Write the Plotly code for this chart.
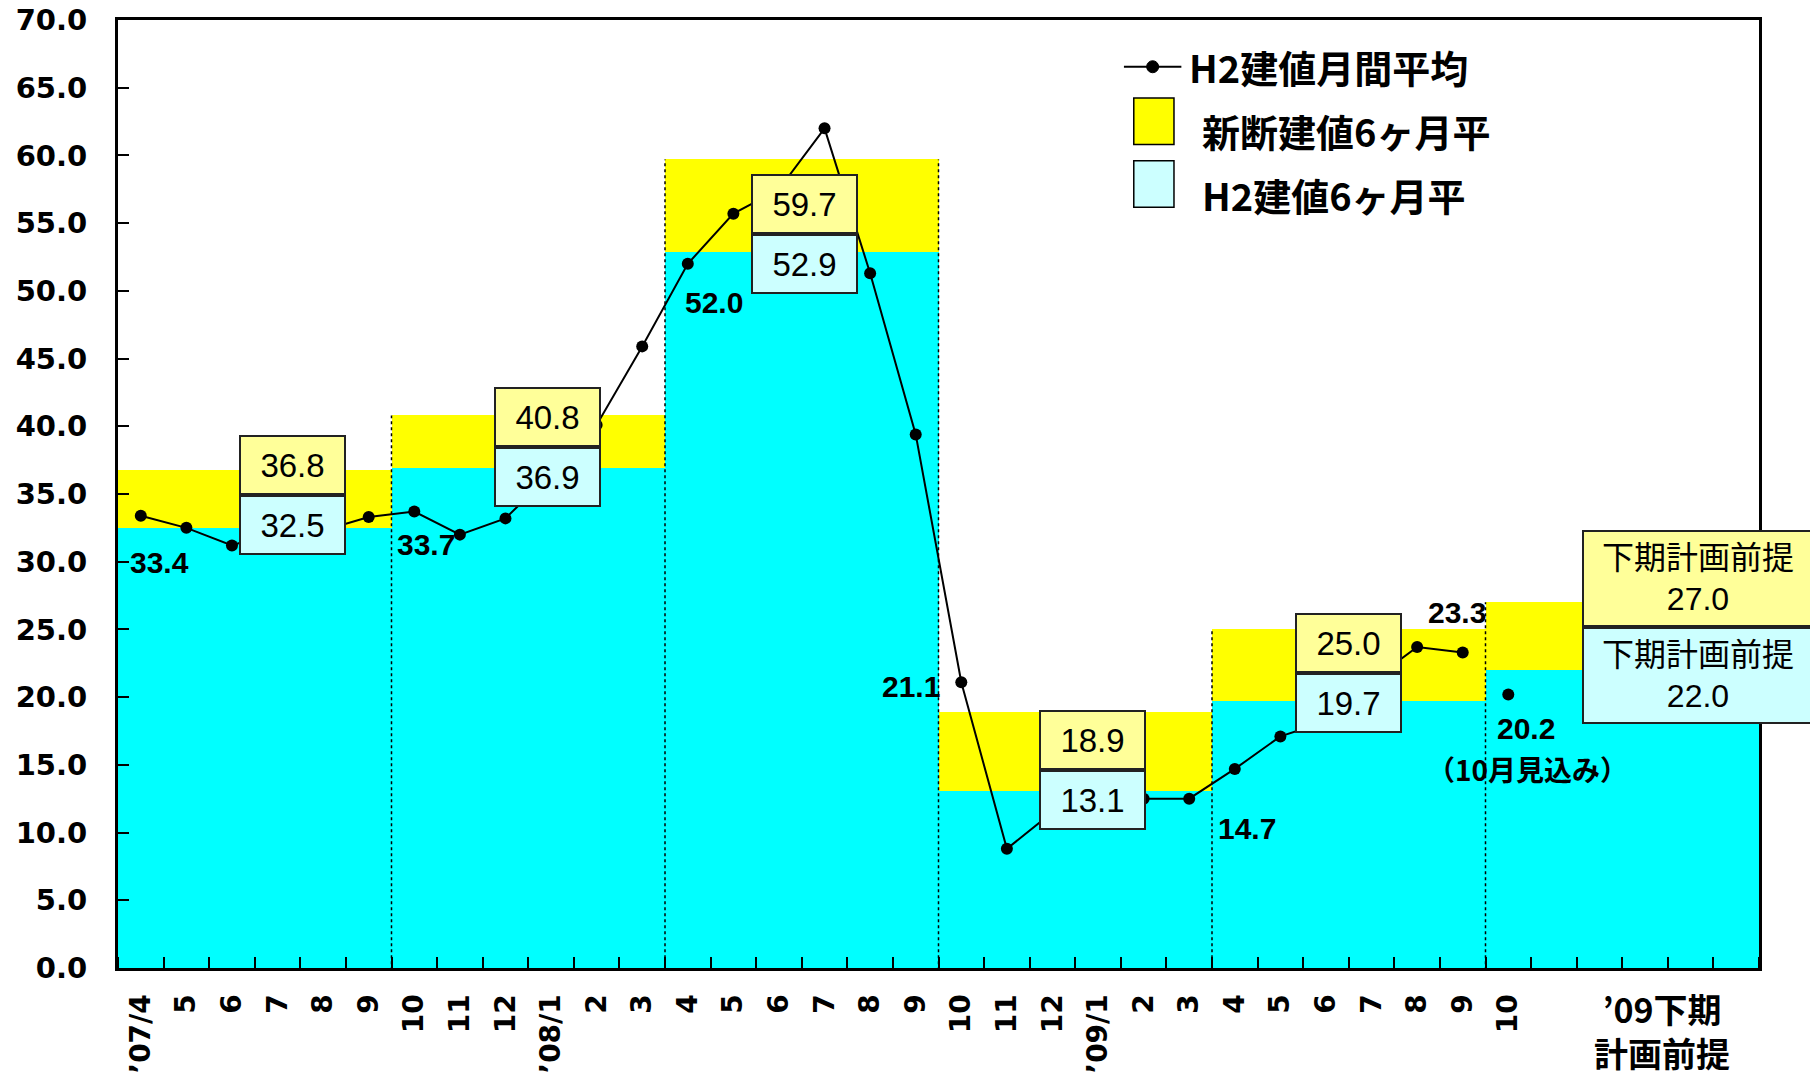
import plotly.graph_objects as go

# ---------------- data ----------------
month_labels = ["’07/4", "5", "6", "7", "8", "9", "10", "11", "12",
                "’08/1", "2", "3", "4", "5", "6", "7", "8", "9", "10", "11", "12",
                "’09/1", "2", "3", "4", "5", "6", "7", "8", "9", "10"]
h2_monthly = [33.4, 32.5, 31.2, 32.3, 32.3, 33.3,
              33.7, 32.0, 33.2, 36.5, 40.1, 45.9,
              52.0, 55.7, 57.5, 62.0, 51.3, 39.4,
              21.1, 8.8, 11.5, 12.3, 12.5, 12.5,
              14.7, 17.1, 18.2, 21.2, 23.7, 23.3]
oct_forecast = 20.2
seg_shindan_6m = [36.8, 40.8, 59.7, 18.9, 25.0, 27.0]
seg_h2_6m = [32.5, 36.9, 52.9, 13.1, 19.7, 22.0]
plan_label = "下期計画前提"
forecast_note = "（10月見込み）"
half_label = "’09下期<br>計画前提"

# ---------------- layout helpers ----------------
N_SLOTS = 36
SEG_LEN = 6
n_seg = len(seg_h2_6m)
seg_centers = [SEG_LEN * i + (SEG_LEN - 1) / 2 for i in range(n_seg)]
month_x = list(range(len(h2_monthly)))
oct_x = len(h2_monthly)

YELLOW = "#FFFF00"
CYAN = "#00FFFF"
BOX_Y = "#FFFF99"
BOX_C = "#CCFFFF"
NUM_FONT = "Liberation Sans, Arial, Noto Sans CJK JP"
CJK_FONT = "Noto Sans CJK JP, Liberation Sans"

fig = go.Figure()

fig.add_trace(go.Bar(x=seg_centers, y=seg_shindan_6m, width=SEG_LEN,
                     marker=dict(color=YELLOW, line=dict(width=0)),
                     name="新断建値6ヶ月平", showlegend=False, hoverinfo="skip"))
fig.add_trace(go.Bar(x=seg_centers, y=seg_h2_6m, width=SEG_LEN,
                     marker=dict(color=CYAN, line=dict(width=0)),
                     name="H2建値6ヶ月平", showlegend=False, hoverinfo="skip"))
fig.add_trace(go.Scatter(x=month_x, y=h2_monthly, mode="lines+markers",
                         line=dict(color="black", width=2),
                         marker=dict(color="black", size=12),
                         name="H2建値月間平均", showlegend=False))
fig.add_trace(go.Scatter(x=[oct_x], y=[oct_forecast], mode="markers",
                         marker=dict(color="black", size=12),
                         showlegend=False))

# dotted boundaries between half-year segments
for i in range(1, n_seg):
    xb = SEG_LEN * i - 0.5
    top = max(seg_shindan_6m[i - 1], seg_shindan_6m[i])
    fig.add_shape(type="line", xref="x", yref="y", x0=xb, x1=xb, y0=-0.6, y1=top,
                  line=dict(color="black", width=1.5, dash="dot"))

annotations = []

# value boxes (position of each pair: box center x in slots, y where they meet)
box_x = [3.33, 8.93, 14.57, 20.88, 26.5]
box_mid = [34.9, 38.5, 54.2, 14.6, 21.75]
for i in range(5):
    annotations.append(dict(x=box_x[i], y=box_mid[i], xref="x", yref="y",
                            text=f"{seg_shindan_6m[i]:.1f}", showarrow=False,
                            xanchor="center", yanchor="bottom",
                            width=103, height=56, bgcolor=BOX_Y,
                            bordercolor="#222222", borderwidth=2, borderpad=0,
                            font=dict(family=NUM_FONT, size=33, color="black")))
    annotations.append(dict(x=box_x[i], y=box_mid[i], xref="x", yref="y",
                            text=f"{seg_h2_6m[i]:.1f}", showarrow=False,
                            xanchor="center", yanchor="top",
                            width=103, height=56, bgcolor=BOX_C,
                            bordercolor="#222222", borderwidth=2, borderpad=0,
                            font=dict(family=NUM_FONT, size=33, color="black")))

# plan boxes for '09 second half
plan_x, plan_mid = 34.16, 25.17
annotations.append(dict(x=plan_x, y=plan_mid, xref="x", yref="y",
                        text=f"{plan_label}<br>{seg_shindan_6m[5]:.1f}", showarrow=False,
                        xanchor="center", yanchor="bottom", width=228, height=93,
                        bgcolor=BOX_Y, bordercolor="#222222", borderwidth=2, borderpad=0,
                        font=dict(family=NUM_FONT, size=32, color="black")))
annotations.append(dict(x=plan_x, y=plan_mid, xref="x", yref="y",
                        text=f"{plan_label}<br>{seg_h2_6m[5]:.1f}", showarrow=False,
                        xanchor="center", yanchor="top", width=228, height=93,
                        bgcolor=BOX_C, bordercolor="#222222", borderwidth=2, borderpad=0,
                        font=dict(family=NUM_FONT, size=32, color="black")))

# data labels on selected months (index, xshift, yshift)
labelled = [(0, 19, -47), (6, 12, -33), (12, 26, -39), (18, -50, -4), (24, 12, -60), (29, -6, 40)]
for idx, dx, dy in labelled:
    annotations.append(dict(x=idx, y=h2_monthly[idx], xref="x", yref="y",
                            text=f"{h2_monthly[idx]:.1f}", showarrow=False,
                            xanchor="center", yanchor="middle", xshift=dx, yshift=dy,
                            font=dict(family=NUM_FONT, size=30, color="black", weight="bold")))
annotations.append(dict(x=oct_x, y=oct_forecast, xref="x", yref="y",
                        text=f"{oct_forecast:.1f}", showarrow=False,
                        xanchor="center", yanchor="middle", xshift=18, yshift=-34,
                        font=dict(family=NUM_FONT, size=30, color="black", weight="bold")))
annotations.append(dict(x=oct_x, y=oct_forecast, xref="x", yref="y",
                        text=forecast_note, showarrow=False,
                        xanchor="center", yanchor="middle", xshift=19, yshift=-75,
                        font=dict(family=CJK_FONT, size=28, color="black", weight="bold")))

# category label for the plan half
annotations.append(dict(x=33.37, y=-0.0148, xref="x", yref="paper", text=half_label,
                        showarrow=False, xanchor="center", yanchor="top",
                        font=dict(family=CJK_FONT, size=34, color="black", weight="bold")))

# custom legend
leg_font = dict(family=CJK_FONT, size=38, color="black", weight="bold")
annotations.append(dict(x=0.6514, y=0.9507, xref="paper", yref="paper", text="H2建値月間平均",
                        showarrow=False, xanchor="left", yanchor="middle", font=leg_font))
annotations.append(dict(x=0.6594, y=0.8836, xref="paper", yref="paper", text="新断建値6ヶ月平",
                        showarrow=False, xanchor="left", yanchor="middle", font=leg_font))
annotations.append(dict(x=0.6594, y=0.8159, xref="paper", yref="paper", text="H2建値6ヶ月平",
                        showarrow=False, xanchor="left", yanchor="middle", font=leg_font))

fig.add_shape(type="line", xref="paper", yref="paper", x0=0.613, x1=0.648, y0=0.9507, y1=0.9507,
              line=dict(color="black", width=2))
fig.add_shape(type="circle", xref="paper", yref="paper", xsizemode="pixel", ysizemode="pixel",
              xanchor=0.6305, yanchor=0.9507, x0=-6, x1=6, y0=-6, y1=6,
              fillcolor="black", line=dict(color="black", width=1))
fig.add_shape(type="rect", xref="paper", yref="paper", x0=0.619, x1=0.6435, y0=0.8686, y1=0.9178,
              fillcolor=YELLOW, line=dict(color="black", width=1.5))
fig.add_shape(type="rect", xref="paper", yref="paper", x0=0.619, x1=0.6435, y0=0.8026, y1=0.8516,
              fillcolor=BOX_C, line=dict(color="black", width=1.5))

fig.update_layout(
    width=1810, height=1092,
    margin=dict(l=118, r=51, t=20, b=124),
    paper_bgcolor="white", plot_bgcolor="white",
    barmode="overlay", bargap=0,
    showlegend=False,
    annotations=annotations,
)
fig.update_xaxes(range=[-0.5, N_SLOTS - 0.5], tickmode="array", automargin=False,
                 tickvals=list(range(len(month_labels))), ticktext=month_labels,
                 tickangle=-90, ticks="", ticklabelstandoff=12,
                 tickfont=dict(family="DejaVu Sans", size=28, color="black", weight="bold"),
                 minor=dict(tickmode="array", tickvals=[i - 0.5 for i in range(N_SLOTS + 1)],
                            ticks="inside", ticklen=11, tickwidth=2, tickcolor="black"),
                 showline=True, linewidth=3, linecolor="black", mirror=True,
                 showgrid=False, zeroline=False)
fig.update_yaxes(range=[0, 70], dtick=5, tick0=0, tickformat=".1f", automargin=False,
                 ticks="inside", ticklen=11, tickwidth=2, tickcolor="black",
                 ticklabelstandoff=22,
                 tickfont=dict(family="DejaVu Sans", size=29, color="black", weight="bold"),
                 showline=True, linewidth=3, linecolor="black", mirror=True,
                 showgrid=False, zeroline=False)

fig.write_html("out.html")
